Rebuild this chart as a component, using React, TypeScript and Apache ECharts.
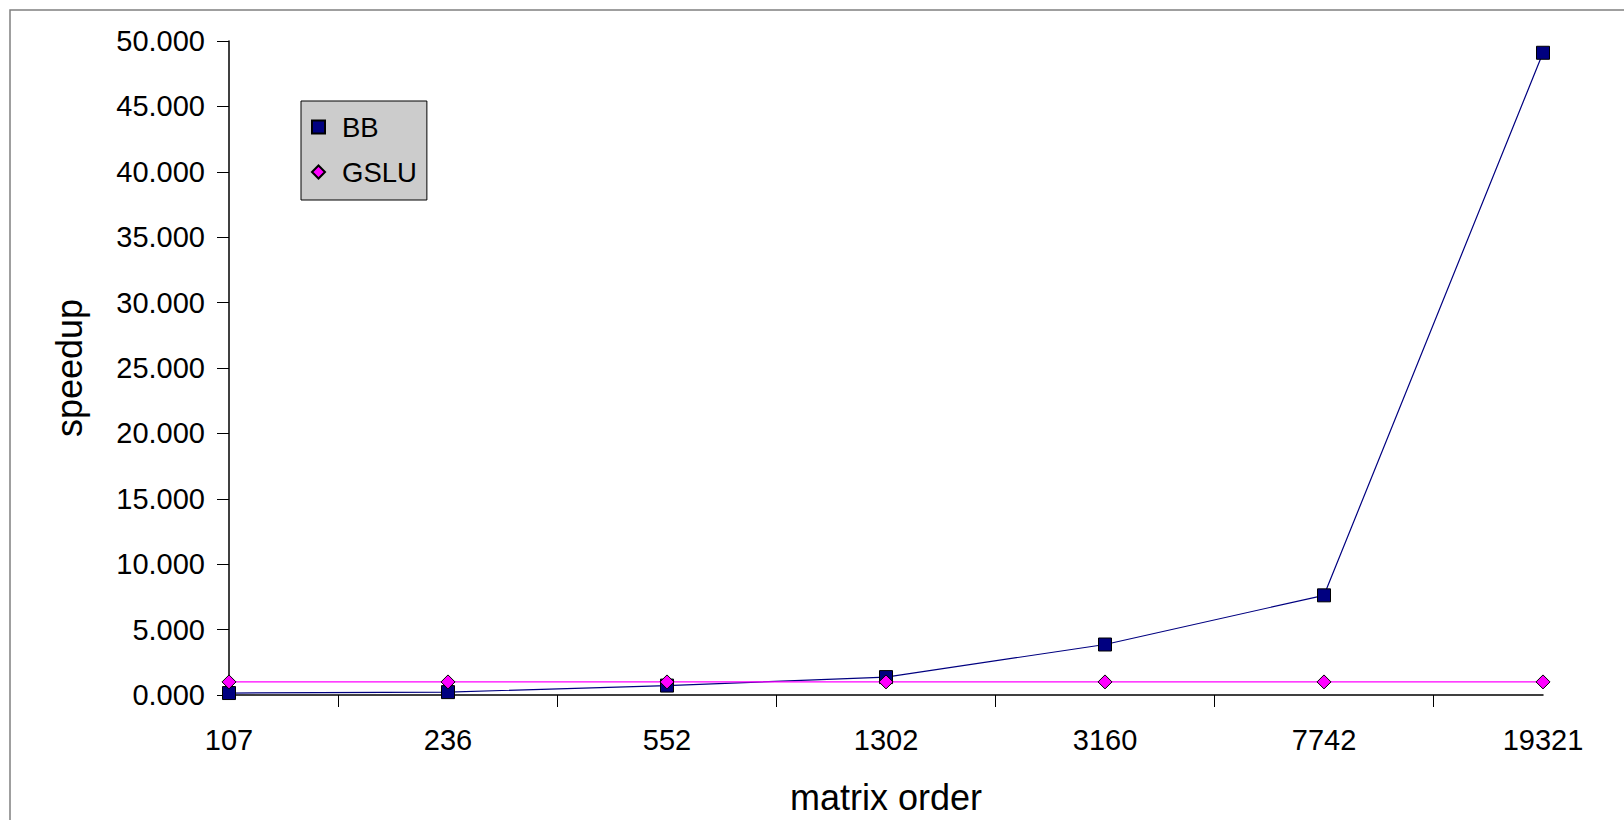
import React, { useEffect, useRef } from "react";
import * as echarts from "echarts";

// Matrix orders on the category axis
const categories = ["107", "236", "552", "1302", "3160", "7742", "19321"];
// Speedup per matrix order
const bbSpeedup = [0.15, 0.22, 0.72, 1.37, 3.86, 7.62, 49.1];
const gsluSpeedup = [1.0, 1.0, 1.0, 1.0, 1.0, 1.0, 1.0];
// Value axis range
const yMin = 0;
const yMax = 50;
const yInterval = 5;

const FONT = "'Liberation Sans', Arial, Helvetica, sans-serif";

export default function App() {
  const ref = useRef<HTMLDivElement>(null);

  useEffect(() => {
    if (!ref.current) return;
    const chart = echarts.init(ref.current, undefined, { renderer: "svg" });

    // tick marks sit halfway between neighbouring categories
    const betweenTicks = categories.slice(1).map((_, i) => i + 0.5);

    chart.setOption({
      animation: false,
      backgroundColor: "#ffffff",
      textStyle: { fontFamily: FONT },
      grid: { left: 229, right: 81, top: 41, bottom: 123, containLabel: false },
      graphic: [
        {
          type: "rect",
          shape: { x: 10, y: 10, width: 1700, height: 900 },
          style: { fill: "none", stroke: "#808080", lineWidth: 1.5 },
          silent: true,
        },
      ],
      legend: {
        orient: "vertical",
        left: 301,
        top: 101,
        backgroundColor: "#cccccc",
        borderColor: "#000000",
        borderWidth: 1,
        borderRadius: 0,
        padding: [11, 10, 13, 10],
        itemWidth: 13,
        itemHeight: 13,
        itemGap: 15,
        selectedMode: false,
        textStyle: {
          fontSize: 27.5,
          color: "#000000",
          fontFamily: FONT,
          lineHeight: 30,
          padding: [0, 0, 0, 12],
        },
        data: [
          { name: "BB", icon: "rect" },
          { name: "GSLU", icon: "diamond" },
        ],
      },
      xAxis: [
        {
          type: "category",
          data: categories,
          boundaryGap: false,
          position: "bottom",
          axisLine: { show: true, lineStyle: { color: "#000000", width: 1.5 } },
          axisTick: { show: false },
          axisLabel: { fontSize: 29, color: "#000000", margin: 30, fontFamily: FONT },
          splitLine: { show: false },
          name: "matrix order",
          nameLocation: "middle",
          nameGap: 84,
          nameTextStyle: { fontSize: 36, color: "#000000", fontFamily: FONT },
        },
        {
          type: "value",
          min: 0,
          max: categories.length - 1,
          position: "bottom",
          axisLine: { show: false },
          axisTick: {
            show: true,
            inside: false,
            length: 12,
            customValues: betweenTicks,
            lineStyle: { color: "#000000", width: 1 },
          },
          axisLabel: { show: false },
          splitLine: { show: false },
        },
      ],
      yAxis: {
        type: "value",
        min: yMin,
        max: yMax,
        interval: yInterval,
        axisLine: { show: true, lineStyle: { color: "#000000", width: 1.5 } },
        axisTick: { show: true, inside: false, length: 12, lineStyle: { color: "#000000", width: 1 } },
        axisLabel: {
          fontSize: 29,
          color: "#000000",
          margin: 24,
          fontFamily: FONT,
          formatter: (v: number) => v.toFixed(3),
        },
        splitLine: { show: false },
        name: "speedup",
        nameLocation: "middle",
        nameGap: 142,
        nameTextStyle: { fontSize: 36, color: "#000000", fontFamily: FONT },
      },
      series: [
        {
          name: "BB",
          type: "line",
          xAxisIndex: 0,
          data: bbSpeedup,
          symbol: "rect",
          symbolSize: 13,
          showSymbol: true,
          showAllSymbol: true,
          itemStyle: { color: "#000080", borderColor: "#000000", borderWidth: 1 },
          lineStyle: { color: "#000080", width: 1.2 },
          emphasis: { disabled: true },
        },
        {
          name: "GSLU",
          type: "line",
          xAxisIndex: 0,
          data: gsluSpeedup,
          symbol: "diamond",
          symbolSize: 14,
          showSymbol: true,
          showAllSymbol: true,
          itemStyle: { color: "#ff00ff", borderColor: "#000000", borderWidth: 1 },
          lineStyle: { color: "#ff00ff", width: 1.2 },
          emphasis: { disabled: true },
        },
      ],
    });

    return () => chart.dispose();
  }, []);

  return (
    <div
      ref={ref}
      style={{ position: "absolute", left: 0, top: 0, width: 1624, height: 820, background: "#ffffff" }}
    />
  );
}
